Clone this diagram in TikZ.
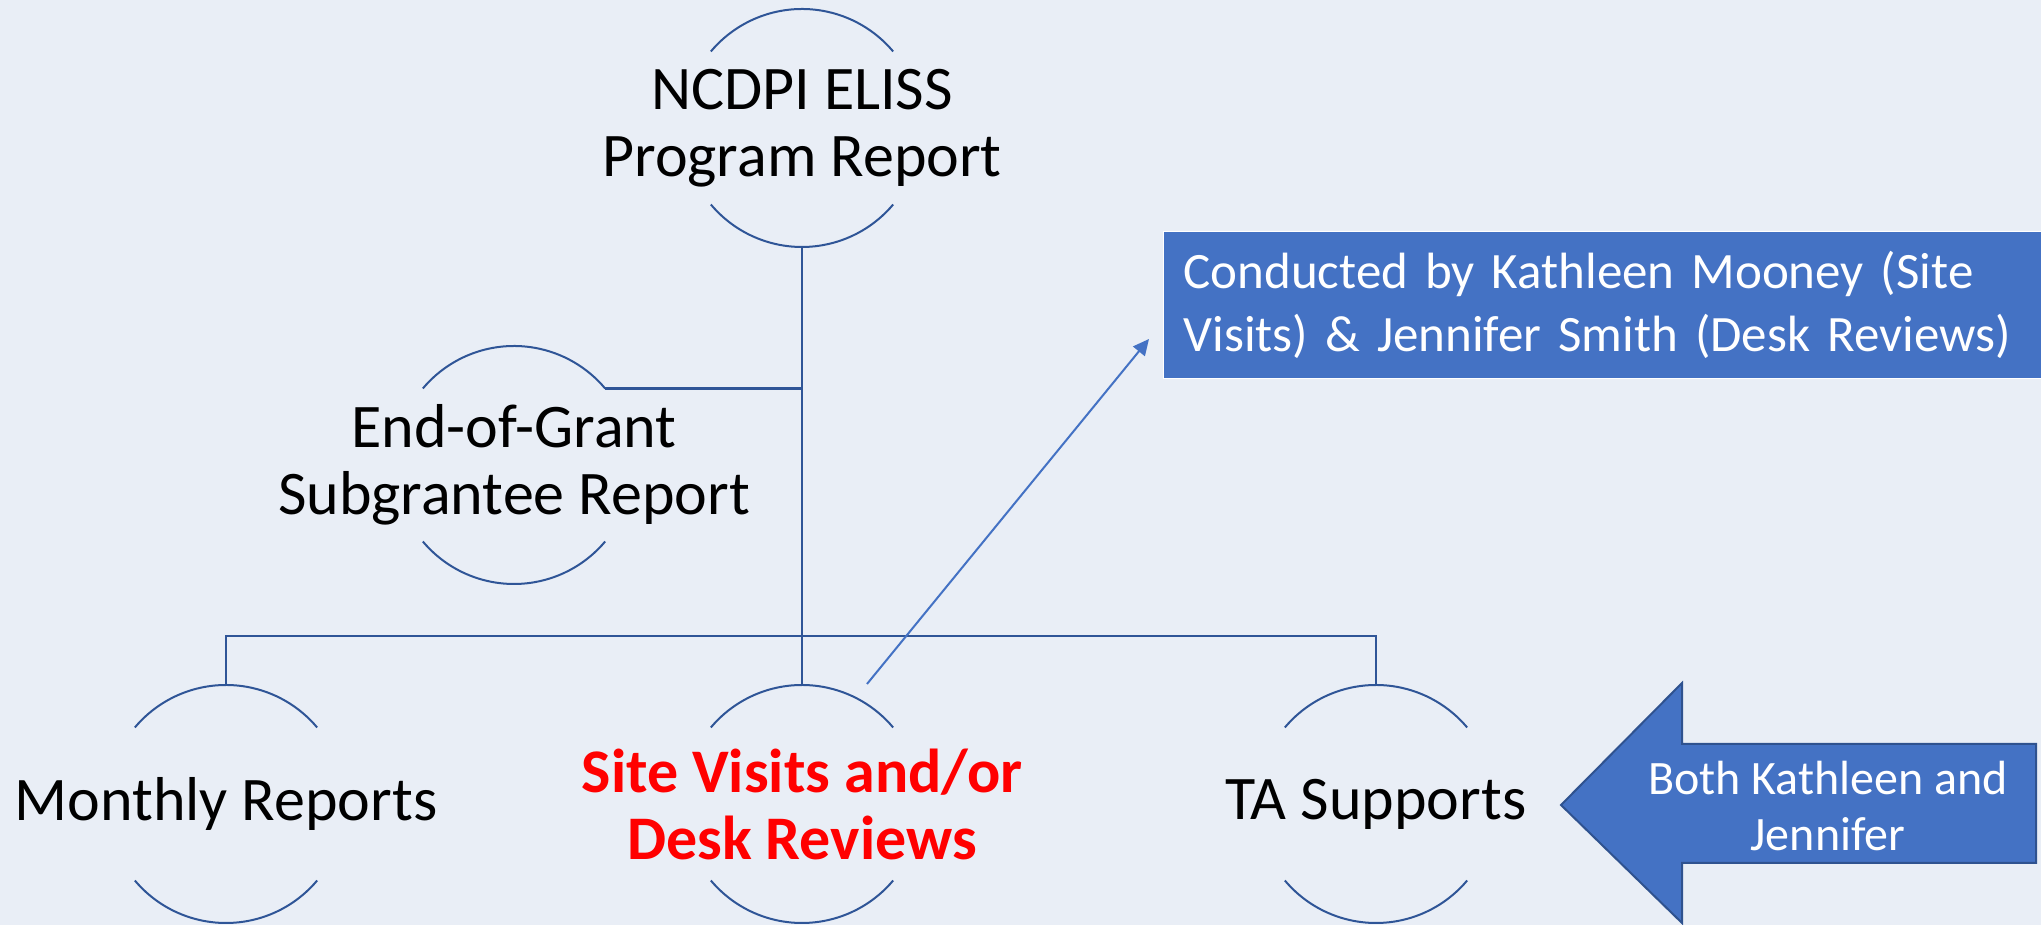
\documentclass[tikz,border=0pt]{standalone}
\usepackage{fontspec}
\setmainfont{Carlito}
\usepackage{xcolor}
\usepackage{tikz}
\usetikzlibrary{calc, arrows.meta}

\definecolor{bgc}{RGB}{233,238,246}
\definecolor{linec}{RGB}{47,85,151}
\definecolor{fillc}{RGB}{68,114,196}
\definecolor{edgec}{RGB}{47,82,143}
\definecolor{hotred}{RGB}{255,0,0}

\tikzset{
	hub/.style={circle, minimum size=119pt, inner sep=0pt, outer sep=0pt},
	lbl/.style={font=\fontsize{31}{33.5}\selectfont, align=center, text=black, inner sep=0pt},
	hot/.style={lbl, font=\fontsize{31}{33.5}\selectfont\bfseries, text=hotred},
	ring/.style={linec, line width=1pt},
	tree/.style={linec, line width=1.2pt},
	note/.style={fill=fillc, draw=white, line width=0.6pt, text=white, align=left,
		font=\fontsize{25.5}{31.5}\selectfont, inner xsep=10pt, text width=421pt,
		minimum height=73.5pt, anchor=north west},
	pointer/.style={fillc, line width=1pt, -{Triangle[length=8pt,width=7.5pt]}}
}

\begin{document}
\begin{tikzpicture}[x=0.5pt, y=0.5pt]
					\def\R{59.5pt};
					
					\fill[bgc] (0,0) rectangle (2041,925);
					\clip (0,0) rectangle (2041,925);
					
					\begin{scope}
						\node[hub, label={[lbl]center:NCDPI ELISS\\Program Report}] (rep) at (802,797) {};
						\node[hub, label={[lbl]center:End-of-Grant\\Subgrantee Report}] (eog) at (514,460) {};
						\node[hub, label={[lbl]center:Monthly Reports}] (mon) at (226,121) {};
						\node[hub, label={[hot]center:Site Visits and/or\\Desk Reviews}] (vis) at (802,121) {};
						\node[hub, label={[lbl]center:TA Supports}] (tas) at (1376,121) {};
					\end{scope}
					
					% open rings
					\foreach \n in {rep,eog,mon,vis,tas}{
						\draw[ring] (\n.140) arc[start angle=140, end angle=40, radius=\R];
						\draw[ring] (\n.220) arc[start angle=220, end angle=320, radius=\R];
					}
					
					\begin{scope}[tree]
						\coordinate (bus) at (802,289);
						\draw (rep.south) -- (vis.north);
						\draw (eog.40) -- (eog.40 -| rep.south);
						\draw (mon.north) -- (mon.north |- bus) -- (tas.north |- bus) -- (tas.north);
					\end{scope}
					
					\node[note] (who) at (1163,694) {Conducted by Kathleen Mooney (Site\\Visits) \& Jennifer Smith (Desk Reviews)};
					\coordinate (from) at (867,241);
					\coordinate (to) at (1149,586);
					\draw[pointer] (from) -- (to);
					
					% big arrow
					\filldraw[fill=fillc, draw=edgec, line width=1pt, line join=miter]
						(1561,120) -- (1682,242) -- (1682,181) -- (2036,181) -- (2036,62) -- (1682,62) -- (1682,2) -- cycle;
					\node[text=white, align=center, font=\fontsize{24}{28}\selectfont, inner sep=0pt] (both) at (1828,119) {Both Kathleen and\\Jennifer};
				\end{tikzpicture}
\end{document}
